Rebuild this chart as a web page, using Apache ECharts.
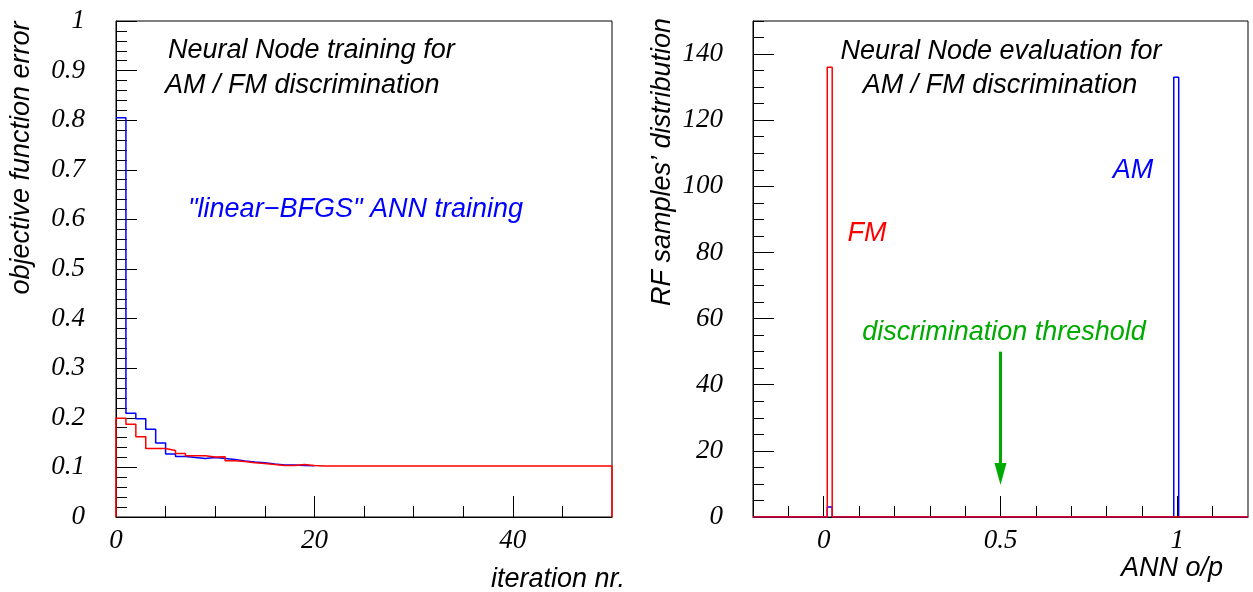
<!DOCTYPE html>
<html>
<head>
<meta charset="utf-8">
<script src="https://cdn.jsdelivr.net/npm/echarts@6/dist/echarts.min.js"></script>
<style>
  html, body { margin: 0; padding: 0; background: #fff; }
  #main { width: 1253px; height: 592px; }
</style>
</head>
<body>
<div id="main"></div>
<script>
// training: objective function error per iteration (bin width 1)
var bfgsError = [0.805, 0.209, 0.198, 0.177, 0.149, 0.127, 0.122, 0.120, 0.118, 0.120,
                 0.118, 0.116, 0.113, 0.111, 0.1095, 0.107, 0.105, 0.105, 0.104, 0.1035];
var redError = [0.199, 0.187, 0.162, 0.138, 0.138, 0.134, 0.128, 0.1236, 0.1236, 0.121,
                0.1215, 0.1136, 0.112, 0.1095, 0.108, 0.106, 0.104, 0.104, 0.106, 0.104,
                0.1028, 0.1028, 0.1028, 0.1028, 0.1028, 0.1028, 0.1028, 0.1028, 0.1028, 0.1028,
                0.1028, 0.1028, 0.1028, 0.1028, 0.1028, 0.1028, 0.1028, 0.1028, 0.1028, 0.1028,
                0.1028, 0.1028, 0.1028, 0.1028, 0.1028, 0.1028, 0.1028, 0.1028, 0.1028, 0.1028];

// evaluation: ANN output histogram, 100 bins on [-0.2, 1.2]
var annMin = -0.2, annMax = 1.2, annBins = 100;
var fmBinIdx = [15];
var fmCounts = [136];
var amBinIdx = [15, 85];
var amCounts = [3, 133];
var threshold = 0.5, arrowFrom = 50, arrowTo = 13;

// tick labels
var trainXMajor = [0, 20, 40];
var trainXMinor = [5, 10, 15, 25, 30, 35, 45];
var trainYMajor = [0, 0.1, 0.2, 0.3, 0.4, 0.5, 0.6, 0.7, 0.8, 0.9, 1];
var evalXMajor = [0, 0.5, 1];
var evalXMinor = [-0.1, 0.1, 0.2, 0.3, 0.4, 0.6, 0.7, 0.8, 0.9, 1.1];
var evalYMajor = [0, 20, 40, 60, 80, 100, 120, 140];

function minorRange(lo, hi, step) {
    var r = [];
    for (var v = lo; v <= hi + 1e-9; v += step) r.push(Math.round(v * 1000) / 1000);
    return r;
}
var trainYMinor = minorRange(0, 1, 0.02);
var evalYMinor = minorRange(0, 150, 5);

// histogram outline like ROOT draws it
function outline(x0, w, vals, fromZero, toZero) {
    var pts = [];
    if (fromZero) pts.push([x0, 0]);
    for (var i = 0; i < vals.length; i++) {
        pts.push([x0 + i * w, vals[i]]);
        pts.push([x0 + (i + 1) * w, vals[i]]);
    }
    if (toZero) pts.push([x0 + vals.length * w, 0]);
    return pts;
}
function dense(idx, counts) {
    var a = [];
    for (var i = 0; i < annBins; i++) a.push(0);
    for (var j = 0; j < idx.length; j++) a[idx[j]] = counts[j];
    return a;
}
var binW = (annMax - annMin) / annBins;

var tickFont = { fontFamily: 'Liberation Serif', fontStyle: 'italic', fontSize: 27, color: '#000' };
var txtFont = 'italic 27px "Liberation Sans"';

function axisPair(dim, grid, min, max, major, minor, labels, margin) {
    var main = {
        type: 'value', gridIndex: grid, min: min, max: max,
        position: dim === 'x' ? 'bottom' : 'left',
        axisLine: { show: true, onZero: false, lineStyle: { color: '#000', width: 1 } },
        axisTick: { show: true, inside: true, length: 21, customValues: major, lineStyle: { color: '#000' } },
        axisLabel: Object.assign({ show: labels, customValues: major, margin: margin }, tickFont),
        splitLine: { show: false }
    };
    var sub = {
        type: 'value', gridIndex: grid, min: min, max: max,
        position: dim === 'x' ? 'bottom' : 'left',
        axisLine: { show: false, onZero: false },
        axisTick: { show: true, inside: true, length: 11, customValues: minor, lineStyle: { color: '#000' } },
        axisLabel: { show: false },
        splitLine: { show: false }
    };
    return [main, sub];
}

var trainX = axisPair('x', 0, 0, 50, trainXMajor, trainXMinor, true, 10);
var trainY = axisPair('y', 0, 0, 1, trainYMajor, trainYMinor, true, 31);
var evalX = axisPair('x', 1, annMin, annMax, evalXMajor, evalXMinor, true, 10);
var evalY = axisPair('y', 1, 0, 150, evalYMajor, evalYMinor, true, 30);

var option = {
    animation: false,
    backgroundColor: '#fff',
    grid: [
        { left: 116, top: 21, width: 496, height: 496, show: true, borderColor: '#000', borderWidth: 1, outerBoundsMode: 'none' },
        { left: 753, top: 21, width: 495, height: 496, show: true, borderColor: '#000', borderWidth: 1, outerBoundsMode: 'none' }
    ],
    xAxis: [trainX[0], trainX[1], evalX[0], evalX[1]],
    yAxis: [trainY[0], trainY[1], evalY[0], evalY[1]],
    series: [
        {
            name: 'linear-BFGS', type: 'line', xAxisIndex: 0, yAxisIndex: 0,
            data: outline(0, 1, bfgsError, false, false),
            showSymbol: false, symbol: 'none',
            lineStyle: { color: '#0000ff', width: 1.5 }
        },
        {
            name: 'training', type: 'line', xAxisIndex: 0, yAxisIndex: 0,
            data: outline(0, 1, redError, true, true),
            showSymbol: false, symbol: 'none',
            lineStyle: { color: '#ff0000', width: 1.5 }
        },
        {
            name: 'AM', type: 'line', xAxisIndex: 2, yAxisIndex: 2,
            data: outline(annMin, binW, dense(amBinIdx, amCounts), true, true),
            showSymbol: false, symbol: 'none',
            lineStyle: { color: '#0000ff', width: 1.5 }
        },
        {
            name: 'FM', type: 'line', xAxisIndex: 2, yAxisIndex: 2,
            data: outline(annMin, binW, dense(fmBinIdx, fmCounts), true, true),
            showSymbol: false, symbol: 'none',
            lineStyle: { color: '#ff0000', width: 1.5 },
            markLine: {
                silent: true,
                symbol: ['none', 'triangle'],
                symbolSize: [12, 22],
                lineStyle: { color: '#00aa00', width: 3, type: 'solid' },
                label: { show: false },
                data: [[{ coord: [threshold, arrowFrom] }, { coord: [threshold, arrowTo] }]]
            }
        }
    ],
    graphic: [
        { type: 'text', x: 168, y: 50, style: { text: 'Neural Node training for', font: txtFont, fill: '#000', verticalAlign: 'middle' } },
        { type: 'text', x: 165, y: 85, style: { text: 'AM / FM discrimination', font: txtFont, fill: '#000', verticalAlign: 'middle' } },
        { type: 'text', x: 188, y: 209, style: { text: '"linear\u2212BFGS" ANN training', font: txtFont, fill: '#0000ff', verticalAlign: 'middle' } },
        { type: 'text', x: 21, y: 158, rotation: Math.PI / 2, style: { text: 'objective function error', font: txtFont, fill: '#000', align: 'center', verticalAlign: 'middle' } },
        { type: 'text', x: 625, y: 579, style: { text: 'iteration nr.', font: txtFont, fill: '#000', align: 'right', verticalAlign: 'middle' } },
        { type: 'text', x: 1001, y: 51, style: { text: 'Neural Node evaluation for', font: txtFont, fill: '#000', align: 'center', verticalAlign: 'middle' } },
        { type: 'text', x: 1000, y: 85, style: { text: 'AM / FM discrimination', font: txtFont, fill: '#000', align: 'center', verticalAlign: 'middle' } },
        { type: 'text', x: 1133, y: 170, style: { text: 'AM', font: txtFont, fill: '#0000ff', align: 'center', verticalAlign: 'middle' } },
        { type: 'text', x: 867, y: 233, style: { text: 'FM', font: txtFont, fill: '#ff0000', align: 'center', verticalAlign: 'middle' } },
        { type: 'text', x: 1004, y: 332, style: { text: 'discrimination threshold', font: txtFont, fill: '#00aa00', align: 'center', verticalAlign: 'middle' } },
        { type: 'text', x: 662, y: 162, rotation: Math.PI / 2, style: { text: 'RF samples\u2019 distribution', font: txtFont, fill: '#000', align: 'center', verticalAlign: 'middle' } },
        { type: 'text', x: 1223, y: 568, style: { text: 'ANN o/p', font: txtFont, fill: '#000', align: 'right', verticalAlign: 'middle' } }
    ]
};

var chart = echarts.init(document.getElementById('main'));
chart.setOption(option);
</script>
</body>
</html>
